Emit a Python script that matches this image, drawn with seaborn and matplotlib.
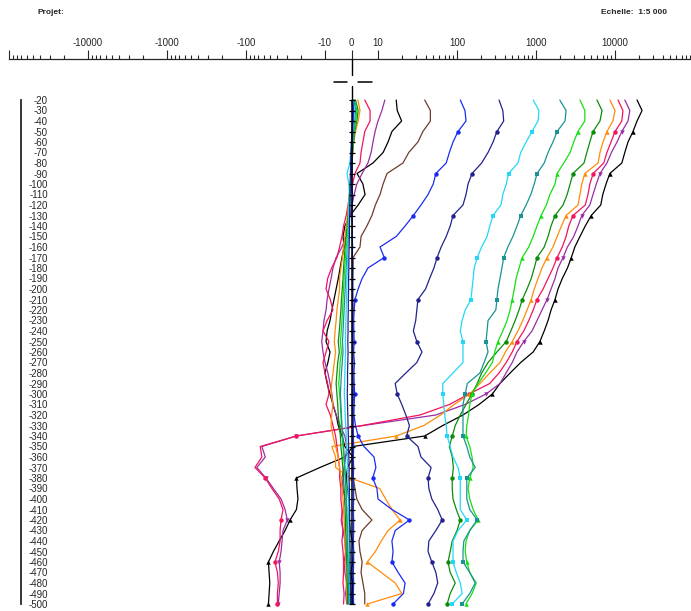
import numpy as np
import seaborn as sns
import matplotlib.pyplot as plt
from matplotlib.ticker import FixedLocator, FixedFormatter, NullFormatter

# depth samples (m) and depths where the channel symbols are drawn
depths = list(range(-20, -510, -10))
mark_depths = [-50, -90, -130, -170, -210, -250, -300, -340, -380, -420, -460, -500]

# channel values, highest channel first
ch01 = [19000, 22000, 19000, 16900, 14600, 13300, 12200, 8600, 7700, 7000,
        6600, 5000, 4200, 3600, 3100, 2800, 2500, 2150, 1900, 1740,
        1550, 1420, 1270, 1120, 920, 640, 470, 350, 280, 190,
        119, 66, 39, 0.5, -2.5, -11.6, -23, -22.6, -22, -23,
        -27.7, -32, -38, -45, -52, -51, -50, -51, -52]
ch02 = [13300, 15400, 14600, 12200, 10600, 9000, 7900, 6450, 5800, 5265,
        4800, 3800, 3400, 3000, 2500, 2200, 1900, 1740, 1550, 1380,
        1190, 1030, 890, 700, 575, 500, 418, 350, 233, 126,
        54, 4.5, -23, -63, -57, -73, -56, -45, -36, -32,
        -30, -34, -35, -36, -38, -37, -37, -38, -39]
ch03 = [10900, 12600, 12200, 10000, 8900, 7900, 7200, 5300, 4800, 4550,
        4200, 2940, 2600, 2400, 2150, 1850, 1640, 1420, 1230, 1030,
        920, 810, 700, 575, 500, 420, 340, 260, 142, 80,
        34, 4, -23, -66, -63, -77, -57, -47, -38, -34,
        -36, -37, -37, -39, -43, -40, -39, -40, -40]
ch04 = [8600, 10000, 9400, 7900, 7050, 6450, 6100, 4150, 3800, 3600,
        3400, 2400, 2100, 1850, 1640, 1380, 1190, 1060, 950, 870,
        770, 680, 590, 500, 410, 350, 260, 195, 145, 92,
        62, 38, 17, -7.4, -6, -6, -0.5, 10.5, 12.5, 15,
        19, 13.4, 11, 9, 6, 11, 16.5, 20, 6]
ch05 = [5900, 6850, 6450, 5270, 4800, 4400, 4050, 2940, 2700, 2480,
        2200, 1740, 1550, 1420, 1270, 1030, 950, 870, 770, 670,
        610, 545, 480, 420, 320, 247, 205, 180, 155, 130,
        110, 95, 87, 80, 87, 90, 87, 87, 89, 98,
        110, 100, 87, 82, 77, 82, 95, 82, 75]
ch06 = [3600, 4150, 4150, 3400, 3000, 2700, 2250, 1850, 1740, 1500,
        1350, 1160, 1030, 920, 810, 670, 610, 560, 530, 500,
        470, 430, 380, 330, 300, 280, 230, 185, 155, 145,
        140, 133, 130, 145, 155, 160, 145, 138, 145, 160,
        185, 145, 130, 127, 133, 145, 175, 155, 130]
ch07 = [2000, 2400, 2330, 1850, 1640, 1420, 1270, 1030, 950, 860,
        750, 640, 575, 510, 440, 390, 370, 350, 330, 320,
        310, 247, 240, 233, 247, 220, 195, 135, 127, 119,
        119, 119, 119, 133, 145, 170, 133, 133, 133, 145,
        180, 145, 122, 119, 119, 145, 170, 145, 116]
ch08 = [920, 1090, 1060, 890, 750, 640, 590, 450, 420, 380,
        360, 286, 260, 240, 205, 180, 165, 160, 155, 150,
        127, 116, 110, 119, 119, 119, 89, 66, 66, 68,
        70, 73, 75, 82, 89, 103, 110, 110, 110, 110,
        133, 103, 89, 89, 89, 98, 110, 116, 87]
ch09 = [340, 380, 390, 320, 286, 247, 205, 155, 138, 130,
        119, 89, 82, 73, 63, 56, 51, 45, 40, 32,
        31, 30, 28, 31, 36, 31, 22.5, 16.5, 17.5, 20,
        22.5, 25, 23, 32, 35, 47, 43, 44, 48, 57,
        65, 54, 44, 43, 48, 54, 57, 51, 43]
ch10 = [110, 126, 130, 103, 89, 80, 73, 54, 50, 43,
        35, 28, 22, 17, 10.6, 12, 6.2, 4, 2.5, 1.3,
        1.0, 0.8, 0.9, 1.0, 0.8, 1.1, 0.9, 1.0, 1.2, 1.0,
        0.9, 1.5, 2.5, 4.7, 8.5, 9.2, 8, 9.6, 10, 15,
        25, 16.5, 15, 15.5, 15, 18, 22, 21, 15.5]
ch11 = [39, 46, 46, 37, 32, 24.5, 20.7, 13, 11.6, 10.6,
        9, 7.7, 5.8, 3.6, 3.2, 0.6, 0.6, 0.5, 0.4, 0.5,
        0.6, 0.4, 0.3, 0.5, 0.6, 0.4, 0.5, 0.6, 0.5, 0.4,
        0.5, 0.6, 0.5, 0.4, 0.6, 0.5, 0.7, 1.3, 2.0, 4.0,
        7.7, 4.0, 2.8, 3.2, 4.0, 3.6, 4.3, 5.0, 5.0]
ch12 = [17, 17.5, 19.9, 15, 13.4, 11.6, 8.1, 2.1, 4.3, 5.1,
        2.5, -0.5, -2.5, -3.2, -2.8, -3.6, -4.3, -5, -5.8, -6.6,
        -7.4, -8.1, -9.2, -9.6, -8.1, -8.9, -10, -9.2, -8.1, -7,
        -5.8, -5, -3.6, -2.5, 0.5, -1.5, -2, -1.5, -1, -1.2,
        -0.8, -0.5, 0.3, 0.8, 0.5, -0.3, 0.4, 0.2, 0.3]
ch13 = [12.2, 11.2, 10, 8.9, 8.1, 7.4, 6.2, 4, 2, 1,
        0.2, -0.6, -1.3, -2, -3.6, -5.8, -7, -7.7, -8.5, -9.2,
        -9.6, -10.3, -10.6, -11, -10.6, -10, -8.9, -8.1, -7.4, -7,
        -5.8, -4.3, -2.5, -1.8, -2.2, -2.8, -3.6, -3.2, -2.5, -3.2,
        -3.9, -3.2, -2.5, -2.2, -2.8, -2.5, -1.8, -2.2, -1.8]
ch14 = [5, 7, 7, 5, 4.3, 3.6, 3.2, 1.3, 0.4, -0.6,
        -1.3, -2, -3, -3.6, -4.5, -5.5, -7.5, -9, -9.6, -8,
        -7, -9.2, -10.6, -8.5, -9.6, -10.6, -10, -9, -8.5, -9.6,
        -8, -7, -6, -5.5, -5, -4.5, -4.5, -4, -4, -3.6,
        -3.6, -3.2, -3.6, -3.2, -3, -3, -3.2, -2.8, -3]
ch15 = [2.4, 3.2, 2.5, 1.5, 0.8, 0.5, 0.2, 0, -0.4, -0.8,
        -1.2, -1.5, -2, -2.5, -3, -3.4, -4, -4.5, -4.5, -5,
        -5.5, -5.8, -6.2, -6.5, -6, -6.5, -7, -7.5, -7.7, -7,
        -7.5, -7.7, -7, -6, -5, -4.5, -4, -3.6, -3.2, -3,
        -2.8, -2.6, -2.5, -2.3, -2.2, -2, -2, -1.8, -1.6]
ch16 = [1.5, 2.5, 2, 1.2, 0.8, 0.4, 0.2, -0.1, -0.5, -0.8,
        -1, -1.3, -1.6, -2, -2.4, -2.7, -3, -3.2, -3.5, -3.8,
        -4, -4.3, -4.6, -5, -4.6, -5.2, -5.5, -5.8, -5.5, -5.2,
        -5, -4.6, -4.2, -4, -3.6, -3.3, -3, -2.8, -2.5, -2.4,
        -2.3, -2.2, -2, -2, -1.8, -1.7, -1.6, -1.5, -1.5]
ch17 = [1.2, 2, 1.6, 1, 0.6, 0.3, 0.1, -0.2, -0.4, -0.6,
        -0.8, -1, -1.3, -1.6, -2, -2.3, -2.6, -2.8, -3, -3.2,
        -3.4, -3.6, -3.9, -4.2, -3.8, -4.3, -4.5, -4.8, -4.5, -4.2,
        -4, -3.8, -3.5, -3.2, -3, -2.6, -2.3, -2, -1.9, -1.8,
        -1.6, -1.5, -1.4, -1.3, -1.2, -1.1, -1.1, -1, -1]
ch18 = [1, 1.5, 1.2, 0.8, 0.5, 0.3, 0.1, 0, -0.2, -0.4,
        -0.6, -0.8, -1, -1.2, -1.5, -1.8, -2, -2.2, -2.4, -2.6,
        -2.8, -3, -3.2, -3.4, -3.2, -3.5, -3.8, -4, -4.2, -4,
        -3.8, -3.6, -3.3, -3, -2.7, -2.5, -2.3, -2.1, -2, -1.9,
        -1.8, -1.7, -1.6, -1.5, -1.4, -1.3, -1.2, -1.1, -1]
ch19 = [0.6, 1, 0.8, 0.3, 0, -0.3, -0.6, -1.7, -1, -0.8,
        -1, -1.1, -1.2, -1.3, -1.4, -1.5, -1.6, -1.7, -1.8, -1.9,
        -2, -2.1, -2.2, -2.3, -2.2, -2.4, -2.5, -2.6, -2.7, -2.5,
        -2.4, -2.2, -2, -1.8, -1.6, -1.5, -1.4, -1.3, -1.2, -1.1,
        -1, -1, -0.9, -0.9, -0.8, -0.8, -0.7, -0.7, -0.6]
ch20 = [0.3, 0.5, 0.4, 0.2, 0, -0.2, -0.3, -0.4, -0.5, -0.6,
        -0.6, -0.7, -0.8, -0.8, -0.9, -1, -1, -1.1, -1.1, -1.2,
        -1.2, -1.3, -1.3, -1.4, -1.3, -1.4, -1.5, -1.5, -1.6, -1.5,
        -1.4, -1.3, -1.2, -1.1, -1, -0.9, -0.9, -0.8, -0.8, -0.7,
        -0.7, -0.6, -0.6, -0.5, -0.5, -0.5, -0.4, -0.4, -0.4]
ch21 = [0.5, 0.8, 0.6, 0.4, 0.3, 0.3, 0.2, 0.2, 0.2, 0.3,
        0.3, 0.2, 0.3, 0.3, 0.4, 0.3, 0.4, 0.4, 0.5, 0.4,
        0.5, 0.5, 0.6, 0.5, 0.6, 0.5, 0.6, 0.6, 0.7, 0.6,
        0.7, 0.6, 0.7, 0.8, 0.7, 0.8, 0.7, 0.8, 0.8, 0.7,
        0.8, 0.8, 0.7, 0.8, 0.8, 0.7, 0.8, 0.7, 0.8]
zero_ref = [0] * len(depths)

channels = [ch01, ch02, ch03, ch04, ch05, ch06, ch07, ch08, ch09, ch10, ch11,
            ch12, ch13, ch14, ch15, ch16, ch17, ch18, ch19, ch20, ch21]
n_marked = 10  # symbols are only visible on the first channels

colors = ['#000000', '#9b2ca6', '#f2145c', '#ff8c0a', '#0b8c0b', '#14e014',
          '#1a9393', '#22d8f8', '#22228f', '#1a2cf2', '#6e3c2c']
markers = ['^', 'v', 'o', '^', 'o', '^', 's', 's', 'o', 'o', 's']

major_ticks = [-100000, -10000, -1000, -100, -10, 0, 10, 100, 1000, 10000]
major_labels = ['', '-10000', '-1000', '-100', '-10', '0', '10', '100', '1000', '10000']

sns.set_style('white')
plt.rcParams['font.family'] = ['Liberation Sans', 'DejaVu Sans']

W, H = 691, 611
fig = plt.figure(figsize=(W / 100, H / 100), dpi=100)
ax = fig.add_axes([9 / W, 7 / H, 682 / W, 504 / H])
ax.set_facecolor('none')

every = [depths.index(d) for d in mark_depths]
for i, vals in enumerate(channels):
    k = i % len(colors)
    sns.lineplot(x=vals, y=depths, ax=ax, color=colors[k],
                 marker=markers[k] if i < n_marked else None,
                 markersize=3.2, markeredgewidth=0, markevery=every,
                 linewidth=0.9, sort=False, orient='y', estimator=None,
                 clip_on=False)

# zero reference with depth ticks
ax.axvline(0, color='black', lw=1.1, zorder=5)
ax.plot(zero_ref, depths, ls='none', marker='_', ms=5, mew=0.9,
        color='black', clip_on=False, zorder=6)

ax.set_xscale('symlog', linthresh=10, linscale=0.302)
ax.set_xlim(-1e5, 9.16e4)
ax.set_ylim(-500, -20)
ax.set_xlabel('')
ax.set_ylabel('')

# top scale
ax.spines['right'].set_visible(False)
ax.spines['bottom'].set_visible(False)
ax.spines['top'].set_position(('outward', 29.5))
ax.spines['top'].set_linewidth(0.9)
ax.xaxis.set_ticks_position('top')
ax.xaxis.set_major_locator(FixedLocator(major_ticks))
ax.xaxis.set_major_formatter(FixedFormatter(major_labels))
minor = [s * m * 10 ** p for s in (-1, 1) for p in range(1, 5) for m in range(2, 10)]
ax.xaxis.set_minor_locator(FixedLocator(minor))
ax.xaxis.set_minor_formatter(NullFormatter())
ax.tick_params(axis='x', which='major', direction='out', length=6.5, width=0.8,
               pad=1.5, labelsize=7, top=True, bottom=False,
               labeltop=True, labelbottom=False)
ax.tick_params(axis='x', which='minor', direction='out', length=2.8, width=0.8,
               top=True, bottom=False)

# depth scale on the left
ax.spines['left'].set_position(('axes', 12 / 682))
ax.spines['left'].set_linewidth(1.3)
ax.set_yticks(depths)
ax.set_yticklabels([str(d) for d in depths])
ax.tick_params(axis='y', length=0, pad=-19.4, labelsize=7)

# cursor cross at the zero position
x0 = ax.transData.transform((0, -20))[0]
over = fig.add_axes([0, 0, 1, 1])
over.set_xlim(0, W)
over.set_ylim(0, H)
over.axis('off')
over.plot([x0, x0], [H - 75, H - 59], color='black', lw=1)
over.plot([x0 - 18, x0 - 5], [H - 81.5, H - 81.5], color='black', lw=1.1)
over.plot([x0 + 6, x0 + 20], [H - 81.5, H - 81.5], color='black', lw=1.1)
over.plot([x0, x0], [H - 100, H - 86], color='black', lw=1)

fig.text(38 / W, 1 - 12 / H, 'Projet:', fontsize=6, fontweight='bold', va='center')
fig.text(667 / W, 1 - 12 / H, 'Echelle:  1:5 000', fontsize=6, fontweight='bold',
         va='center', ha='right')

fig.savefig('out.png', dpi=100)
